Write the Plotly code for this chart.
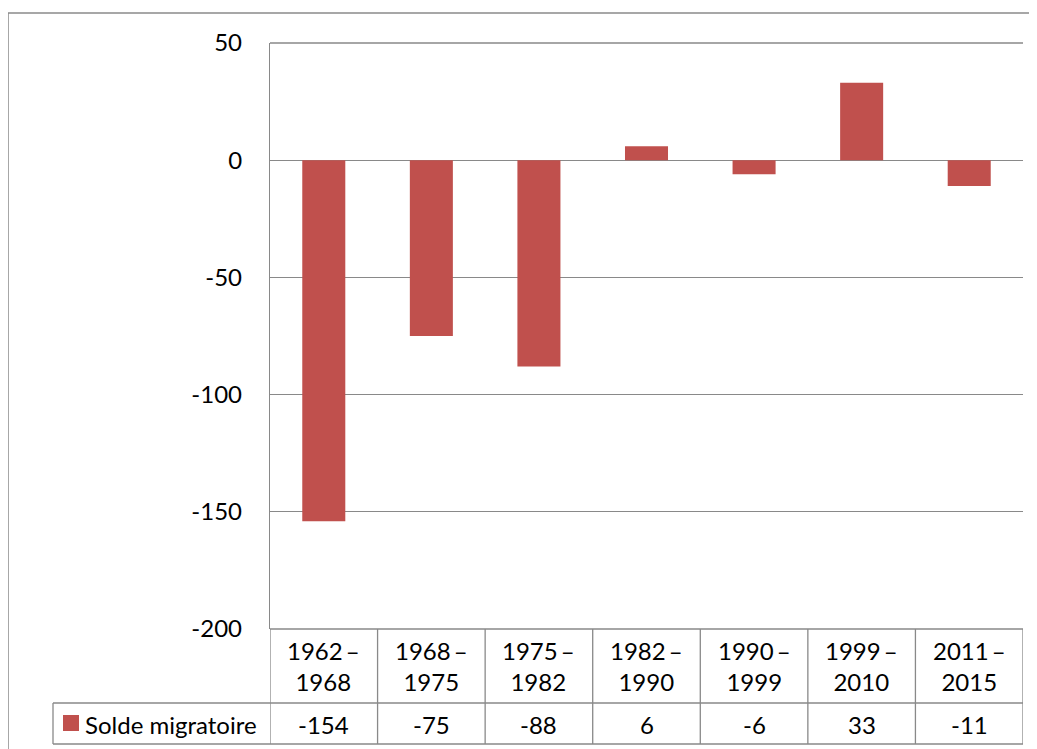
import plotly.graph_objects as go

periods = ["1962\u2009–<br>1968", "1968\u2009–<br>1975", "1975\u2009–<br>1982", "1982\u2009–<br>1990",
           "1990\u2009–<br>1999", "1999\u2009–<br>2010", "2011\u2009–<br>2015"]
values = [-154, -75, -88, 6, -6, 33, -11]
series_name = "Solde migratoire"
y_ticks = [50, 0, -50, -100, -150, -200]

OFF = 8  # page body margin
W, H = 1037 - OFF, 749 - OFF
L, R, T, B = 270 - OFF, 1023 - OFF, 43 - OFF, 629 - OFF
BAR = "#C0504D"
GRID = "#898989"
FONT = "Lato, 'Open Sans', sans-serif"
FS = 24

def py(p):
    return (B - (p - OFF)) / (B - T)

def px(p):
    return ((p - OFF) - L) / (R - L)

xs = list(range(len(values)))
fig = go.Figure(go.Bar(x=xs, y=values, width=0.4, marker=dict(color=BAR, line=dict(width=0)),
                       name=series_name, showlegend=False))

shapes = []
annotations = []
line = dict(color=GRID, width=1.3)

# plot top and bottom grid lines
for yy in (0, 1):
    shapes.append(dict(type="line", xref="paper", yref="paper", x0=0, x1=1, y0=yy, y1=yy, line=line))
# table rows
for p in (703, 744):
    shapes.append(dict(type="line", xref="paper", yref="paper", x0=px(53), x1=1, y0=py(p), y1=py(p), line=line))
shapes.append(dict(type="line", xref="paper", yref="paper", x0=px(53), x1=px(53), y0=py(703), y1=py(744), line=line))
for i in range(len(values) + 1):
    shapes.append(dict(type="line", xref="x", yref="paper", x0=i - 0.5, x1=i - 0.5, y0=0, y1=py(744), line=line))
# outer chart border
shapes.append(dict(type="line", xref="paper", yref="paper", x0=px(8), x1=px(1045), y0=py(13), y1=py(13),
                   line=dict(color="#8a8a8a", width=1.5)))
shapes.append(dict(type="line", xref="paper", yref="paper", x0=px(8), x1=px(8), y0=py(13), y1=py(760),
                   line=dict(color="#8a8a8a", width=1.5)))
# legend key
shapes.append(dict(type="rect", xref="paper", yref="paper", x0=px(63), x1=px(79), y0=py(731), y1=py(715),
                   fillcolor=BAR, line=dict(width=0)))

for i, (lab, v) in enumerate(zip(periods, values)):
    annotations.append(dict(x=i, y=py(666), xref="x", yref="paper", text=lab, showarrow=False,
                            xanchor="center", yanchor="middle",
                            font=dict(family=FONT, size=FS, color="black"), align="center"))
    annotations.append(dict(x=i, y=py(724), xref="x", yref="paper", text=str(v), showarrow=False,
                            xanchor="center", yanchor="middle",
                            font=dict(family=FONT, size=FS, color="black")))
annotations.append(dict(x=px(83), y=py(724), xref="paper", yref="paper", text=series_name, showarrow=False,
                        xanchor="left", yanchor="middle", font=dict(family=FONT, size=FS, color="black")))

fig.update_layout(
    width=W, height=H,
    margin=dict(l=L, r=W - R, t=T, b=H - B, pad=0),
    paper_bgcolor="white", plot_bgcolor="white",
    xaxis=dict(range=[-0.5, len(values) - 0.5], showticklabels=False, showgrid=False, zeroline=False,
               showline=False, ticks=""),
    yaxis=dict(range=[-200, 50], tickvals=y_ticks, ticktext=[str(t) for t in y_ticks],
               showgrid=True, gridcolor=GRID, gridwidth=1.3, zeroline=True, zerolinecolor=GRID,
               zerolinewidth=1.3, showline=True, linecolor=GRID, linewidth=1.3,
               ticks="", ticklabelstandoff=22,
               tickfont=dict(family=FONT, size=FS, color="black")),
    shapes=shapes, annotations=annotations,
)

fig.write_html("out.html")
